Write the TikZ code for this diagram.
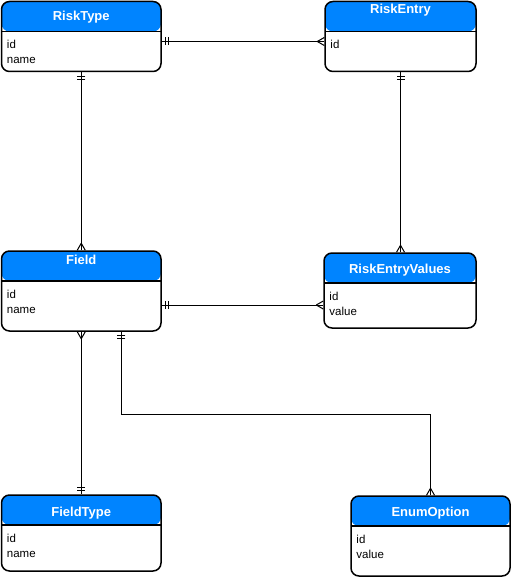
\documentclass[tikz,border=0pt]{standalone}
\usepackage{fontspec}
\setmainfont{Liberation Sans}
\definecolor{hdblue}{RGB}{0,132,255}

% crow's foot ends
\pgfdeclarearrow{
  name = erone,
  setup code = {
    \pgfarrowssettipend{0pt}
    \pgfarrowssetlineend{0pt}
    \pgfarrowssetbackend{-8pt}
  },
  drawing code = {
    \pgfpathmoveto{\pgfpoint{-4pt}{-4pt}}
    \pgfpathlineto{\pgfpoint{-4pt}{4pt}}
    \pgfpathmoveto{\pgfpoint{-7pt}{-4pt}}
    \pgfpathlineto{\pgfpoint{-7pt}{4pt}}
    \pgfusepathqstroke
  },
}
\pgfdeclarearrow{
  name = ermany,
  setup code = {
    \pgfarrowssettipend{0pt}
    \pgfarrowssetlineend{0pt}
    \pgfarrowssetbackend{-8pt}
  },
  drawing code = {
    \pgfpathmoveto{\pgfpoint{0pt}{4pt}}
    \pgfpathlineto{\pgfpoint{-7pt}{0pt}}
    \pgfpathmoveto{\pgfpoint{0pt}{-4pt}}
    \pgfpathlineto{\pgfpoint{-7pt}{0pt}}
    \pgfusepathqstroke
  },
}

\begin{document}
\begin{tikzpicture}[x=1pt,y=-1pt]
        \tikzstyle{entity} = [rectangle, rounded corners=8pt, draw=black, fill=white, line width=1.5pt, inner sep=0pt,
          path picture={\fill[hdblue] (path picture bounding box.north west) rectangle ([yshift=-30pt]path picture bounding box.north east);
            \draw ([yshift=-30pt]path picture bounding box.north west) -- ([yshift=-30pt]path picture bounding box.north east);}]
        \tikzstyle{hdtext} = [text=white, font=\bfseries\fontsize{13}{15}\selectfont, inner sep=0pt]
        \tikzstyle{attrtext} = [anchor=north west, align=left, font=\fontsize{11.5}{15}\selectfont, inner sep=0pt]
        \tikzstyle{link} = [draw=black, line width=1pt]
        \useasboundingbox (0,0) rectangle (512,577);
        % boxes
        \node[entity, minimum width=159.5pt, minimum height=70pt] (rtype) at (81.25,36.5) {};
        \node[entity, minimum width=151pt, minimum height=70pt] (rentry) at (400.5,36.5) {};
        \node[entity, minimum width=159.5pt, minimum height=80pt] (field) at (81.25,291) {};
        \node[entity, minimum width=152pt, minimum height=75pt] (rvalues) at (400,290.5) {};
        \node[entity, minimum width=159.5pt, minimum height=76pt] (ftype) at (81.25,533) {};
        \node[entity, minimum width=159pt, minimum height=80pt] (eoption) at (430.5,536) {};
        % titles
        \node[hdtext] (rtype-h) at ([yshift=-16.5pt]rtype.north) {RiskType};
        \node[hdtext] (rentry-h) at ([yshift=-9.5pt]rentry.north) {RiskEntry};
        \node[hdtext] (field-h) at ([yshift=-9.5pt]field.north) {Field};
        \node[hdtext] (rvalues-h) at ([yshift=-17.5pt]rvalues.north) {RiskEntryValues};
        \node[hdtext] (ftype-h) at ([yshift=-18.5pt]ftype.north) {FieldType};
        \node[hdtext] (eoption-h) at ([yshift=-17.5pt]eoption.north) {EnumOption};
        % attributes
        \node[attrtext] (rtype-a) at ([xshift=6pt,yshift=-39.5pt]rtype.north west) {id\\name};
        \node[attrtext] (rentry-a) at ([xshift=6pt,yshift=-39.5pt]rentry.north west) {id};
        \node[attrtext] (field-a) at ([xshift=6pt,yshift=-39.5pt]field.north west) {id\\name};
        \node[attrtext] (rvalues-a) at ([xshift=6pt,yshift=-39.5pt]rvalues.north west) {id\\value};
        \node[attrtext] (ftype-a) at ([xshift=6pt,yshift=-39.5pt]ftype.north west) {id\\name};
        \node[attrtext] (eoption-a) at ([xshift=6pt,yshift=-39.5pt]eoption.north west) {id\\value};
        % relations
        \draw[link, erone-ermany] ([yshift=-5pt]rtype.east) -- ([yshift=-5pt]rentry.west);
        \draw[link, erone-ermany] (rtype.south) -- (field.north);
        \draw[link, erone-ermany] (rentry.south) -- (rentry.south |- rvalues.north);
        \draw[link, erone-ermany] ([yshift=-14pt]field.east) -- ([yshift=-14pt]field.east -| rvalues.west);
        \draw[link, ermany-erone] (field.south) -- (ftype.north);
        \draw[link, erone-ermany] ([xshift=40pt]field.south) -- ++(0,83) -| (eoption.north);
\end{tikzpicture}
\end{document}
